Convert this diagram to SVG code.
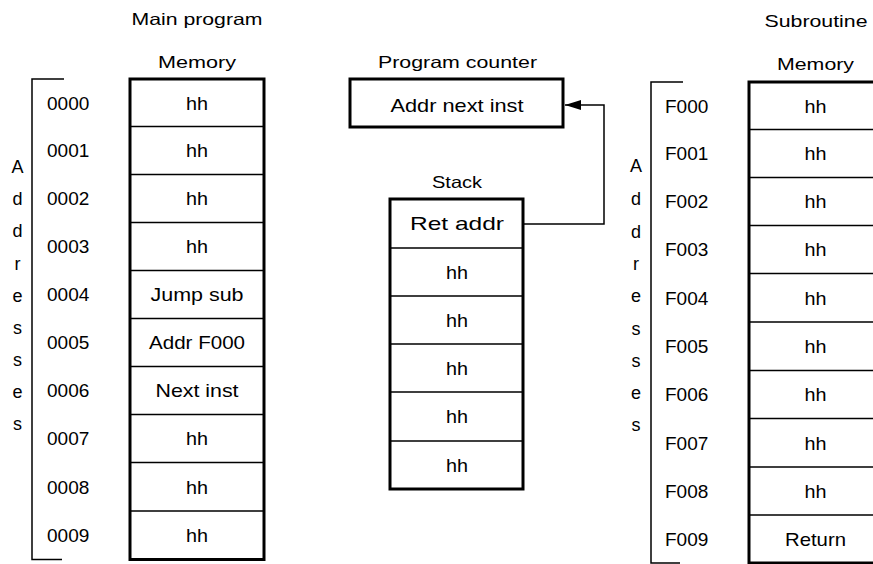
<svg xmlns="http://www.w3.org/2000/svg" width="873" height="564" viewBox="0 0 873 564">
<style>
text{font-family:"Liberation Sans",Arial,Helvetica,sans-serif;fill:#000}
.ttl{font-size:16.5px;text-anchor:middle}
.cell{font-size:17.8px;text-anchor:middle}
.adr{font-size:19px}
.vl{font-size:18px;text-anchor:middle}
.box{fill:#fff;stroke:#000;stroke-width:3}
.sep{stroke:#000;stroke-width:1.5;fill:none}
.brk{stroke:#000;stroke-width:1.5;fill:none}
.con{stroke:#000;stroke-width:1.5;fill:none}
</style>
<defs>
<marker id="ah" markerUnits="userSpaceOnUse" markerWidth="17" markerHeight="11" refX="16" refY="5" orient="auto">
<path d="M0,0 L16,5 L0,10 z" fill="#000"/>
</marker>
</defs>
<rect width="873" height="564" fill="#fff"/>

<g id="main-title">
<text class="ttl" x="197" y="25" textLength="131" lengthAdjust="spacingAndGlyphs">Main program</text>
<text class="ttl" x="197" y="68" textLength="78" lengthAdjust="spacingAndGlyphs">Memory</text>
</g>

<g id="main-addresses">
<path class="brk" d="M64,79 H32 V559.5 H62"/>
<g class="vl">
<text x="17.5" y="173">A</text>
<text x="17.5" y="205">d</text>
<text x="17.5" y="237">d</text>
<text x="17.5" y="270">r</text>
<text x="17.5" y="302">e</text>
<text x="17.5" y="334">s</text>
<text x="17.5" y="366">s</text>
<text x="17.5" y="398">e</text>
<text x="17.5" y="430">s</text>
</g>
<g class="adr">
<text x="47" y="109.5">0000</text>
<text x="47" y="157.3">0001</text>
<text x="47" y="205.3">0002</text>
<text x="47" y="253.3">0003</text>
<text x="47" y="301.3">0004</text>
<text x="47" y="349.3">0005</text>
<text x="47" y="397.3">0006</text>
<text x="47" y="445.3">0007</text>
<text x="47" y="493.5">0008</text>
<text x="47" y="542">0009</text>
</g>
</g>

<g id="main-memory">
<rect class="box" x="130" y="79" width="134" height="480.5"/>
<path class="sep" d="M130,126.5 H264 M130,174.5 H264 M130,222.5 H264 M130,270.5 H264 M130,318.5 H264 M130,366.5 H264 M130,414.5 H264 M130,462.5 H264 M130,511 H264"/>
<text class="cell" x="197" y="109.6" textLength="22" lengthAdjust="spacingAndGlyphs">hh</text>
<text class="cell" x="197" y="157.3" textLength="22" lengthAdjust="spacingAndGlyphs">hh</text>
<text class="cell" x="197" y="205.3" textLength="22" lengthAdjust="spacingAndGlyphs">hh</text>
<text class="cell" x="197" y="253.3" textLength="22" lengthAdjust="spacingAndGlyphs">hh</text>
<text class="cell" x="197" y="301.3" textLength="93" lengthAdjust="spacingAndGlyphs">Jump sub</text>
<text class="cell" x="197" y="349.3" textLength="96" lengthAdjust="spacingAndGlyphs">Addr F000</text>
<text class="cell" x="197" y="397.3" textLength="83" lengthAdjust="spacingAndGlyphs">Next inst</text>
<text class="cell" x="197" y="445.3" textLength="22" lengthAdjust="spacingAndGlyphs">hh</text>
<text class="cell" x="197" y="493.6" textLength="22" lengthAdjust="spacingAndGlyphs">hh</text>
<text class="cell" x="197" y="542.1" textLength="22" lengthAdjust="spacingAndGlyphs">hh</text>
</g>

<g id="program-counter">
<text class="ttl" x="457.5" y="68" textLength="159" lengthAdjust="spacingAndGlyphs">Program counter</text>
<rect class="box" x="350" y="79" width="213" height="48"/>
<text class="cell" x="457" y="111.8" textLength="133" lengthAdjust="spacingAndGlyphs">Addr next inst</text>
</g>

<g id="stack">
<text class="ttl" x="457" y="188" textLength="50" lengthAdjust="spacingAndGlyphs">Stack</text>
<rect class="box" x="390" y="199" width="133" height="290"/>
<path class="sep" d="M390,248 H523 M390,296 H523 M390,344 H523 M390,392 H523 M390,441 H523"/>
<text class="cell" x="457" y="230.3" textLength="94" lengthAdjust="spacingAndGlyphs">Ret addr</text>
<text class="cell" x="457" y="278.8" textLength="22" lengthAdjust="spacingAndGlyphs">hh</text>
<text class="cell" x="457" y="326.8" textLength="22" lengthAdjust="spacingAndGlyphs">hh</text>
<text class="cell" x="457" y="374.8" textLength="22" lengthAdjust="spacingAndGlyphs">hh</text>
<text class="cell" x="457" y="423.3" textLength="22" lengthAdjust="spacingAndGlyphs">hh</text>
<text class="cell" x="457" y="471.8" textLength="22" lengthAdjust="spacingAndGlyphs">hh</text>
</g>

<g id="sub-title">
<text class="ttl" x="816" y="27" textLength="103" lengthAdjust="spacingAndGlyphs">Subroutine</text>
<text class="ttl" x="815.5" y="70" textLength="77" lengthAdjust="spacingAndGlyphs">Memory</text>
</g>

<g id="sub-addresses">
<path class="brk" d="M683,82 H651 V563 H680"/>
<g class="vl">
<text x="636" y="172">A</text>
<text x="636" y="205">d</text>
<text x="636" y="238">d</text>
<text x="636" y="270">r</text>
<text x="636" y="302">e</text>
<text x="636" y="335">s</text>
<text x="636" y="367">s</text>
<text x="636" y="399">e</text>
<text x="636" y="431">s</text>
</g>
<g class="adr">
<text x="665" y="112.5">F000</text>
<text x="665" y="160.3">F001</text>
<text x="665" y="208.3">F002</text>
<text x="665" y="256.3">F003</text>
<text x="665" y="304.5">F004</text>
<text x="665" y="353">F005</text>
<text x="665" y="401.3">F006</text>
<text x="665" y="449.5">F007</text>
<text x="665" y="497.8">F008</text>
<text x="665" y="545.8">F009</text>
</g>
</g>

<g id="sub-memory">
<rect class="box" x="749" y="82" width="140" height="481"/>
<path class="sep" d="M749,129.5 H889 M749,177.5 H889 M749,225.5 H889 M749,273.5 H889 M749,322 H889 M749,370.5 H889 M749,418.5 H889 M749,467 H889 M749,515 H889"/>
<text class="cell" x="815.5" y="112.6" textLength="22" lengthAdjust="spacingAndGlyphs">hh</text>
<text class="cell" x="815.5" y="160.3" textLength="22" lengthAdjust="spacingAndGlyphs">hh</text>
<text class="cell" x="815.5" y="208.3" textLength="22" lengthAdjust="spacingAndGlyphs">hh</text>
<text class="cell" x="815.5" y="256.3" textLength="22" lengthAdjust="spacingAndGlyphs">hh</text>
<text class="cell" x="815.5" y="304.6" textLength="22" lengthAdjust="spacingAndGlyphs">hh</text>
<text class="cell" x="815.5" y="353.1" textLength="22" lengthAdjust="spacingAndGlyphs">hh</text>
<text class="cell" x="815.5" y="401.3" textLength="22" lengthAdjust="spacingAndGlyphs">hh</text>
<text class="cell" x="815.5" y="449.6" textLength="22" lengthAdjust="spacingAndGlyphs">hh</text>
<text class="cell" x="815.5" y="497.8" textLength="22" lengthAdjust="spacingAndGlyphs">hh</text>
<text class="cell" x="815.5" y="545.8" textLength="61" lengthAdjust="spacingAndGlyphs">Return</text>
</g>

<g id="connectors">
<path class="con" d="M523,224 H604 V105 H565" marker-end="url(#ah)"/>
</g>
</svg>
